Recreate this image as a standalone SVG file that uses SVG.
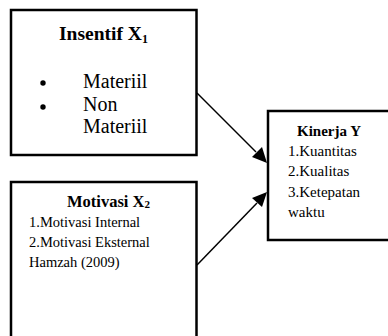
<svg xmlns="http://www.w3.org/2000/svg" width="388" height="336" viewBox="0 0 388 336">
<style>
.box{fill:#fff;stroke:#000;stroke-width:2.5}
.b{font-weight:bold}
.con{stroke:#000;stroke-width:1.5;fill:none}
</style>
<rect width="388" height="336" fill="#fff"/>
<g font-family="Liberation Serif, Times New Roman, serif" fill="#000">
<g id="insentif">
<rect class="box" x="11" y="10" width="185.5" height="145"/>
<text class="b" x="59" y="40" font-size="19.5">Insentif X<tspan font-size="12" dy="3">1</tspan></text>
<circle cx="43" cy="83" r="2.7"/>
<circle cx="43" cy="107" r="2.7"/>
<text x="83" y="88" font-size="20">Materiil</text>
<text x="83" y="111" font-size="20">Non</text>
<text x="83" y="133" font-size="20">Materiil</text>
</g>
<g id="motivasi">
<rect class="box" x="11" y="182" width="185.5" height="170"/>
<text class="b" x="67" y="207" font-size="16.5">Motivasi X<tspan font-size="11" dy="1">2</tspan></text>
<text x="29" y="227" font-size="14.5">1.Motivasi Internal</text>
<text x="29" y="247" font-size="14.5">2.Motivasi Eksternal</text>
<text x="29" y="267" font-size="14.5">Hamzah (2009)</text>
</g>
<g id="kinerja">
<rect class="box" x="268" y="111" width="130" height="129"/>
<text class="b" x="297" y="136" font-size="15">Kinerja Y</text>
<text x="288" y="156" font-size="15">1.Kuantitas</text>
<text x="288" y="176" font-size="15">2.Kualitas</text>
<text x="288" y="197" font-size="15">3.Ketepatan</text>
<text x="288" y="217" font-size="15">waktu</text>
</g>
</g>
<g id="connectors">
<line class="con" x1="197" y1="93" x2="256" y2="152"/>
<path d="M267,163 L252,157 L262,147 z" fill="#000"/>
<line class="con" x1="197" y1="265" x2="257" y2="203"/>
<path d="M267,192 L262,207 L252,198 z" fill="#000"/>
</g>
</svg>
